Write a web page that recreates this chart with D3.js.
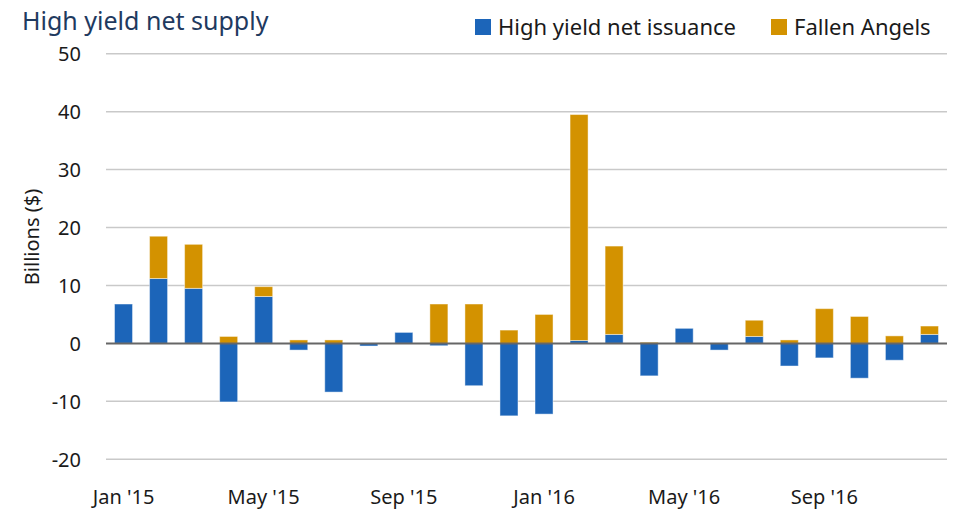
<!DOCTYPE html>
<html lang="en">
<head>
    <meta charset="utf-8">
    <script type="text/javascript" src="https://cdn.jsdelivr.net/npm/d3@7"></script>
    <style>
        body { margin: 0; background: #fff; }
        text { font-family: "Noto Sans", "Open Sans", sans-serif; }
    </style>
</head>
<body>
<script type="text/javascript">

    // Data
    let months = ["Jan '15", "Feb '15", "Mar '15", "Apr '15", "May '15", "Jun '15",
        "Jul '15", "Aug '15", "Sep '15", "Oct '15", "Nov '15", "Dec '15",
        "Jan '16", "Feb '16", "Mar '16", "Apr '16", "May '16", "Jun '16",
        "Jul '16", "Aug '16", "Sep '16", "Oct '16", "Nov '16", "Dec '16"];
    let netIssuance = [6.8, 11.2, 9.5, -10.1, 8.1, -1.15, -8.4, -0.45, 1.9, -0.4, -7.3, -12.5,
        -12.2, 0.5, 1.55, -5.6, 2.6, -1.15, 1.2, -3.9, -2.5, -6.0, -2.9, 1.55];
    let fallenAngels = [0, 7.3, 7.6, 1.2, 1.7, 0.6, 0.6, 0, 0, 6.8, 6.8, 2.3,
        5.0, 39.0, 15.25, 0.2, 0, 0, 2.8, 0.6, 6.0, 4.65, 1.3, 1.45];
    let yTicks = [-20, -10, 0, 10, 20, 30, 40, 50];
    let xTickLabels = ["Jan '15", "May '15", "Sep '15", "Jan '16", "May '16", "Sep '16"];
    let seriesNames = ["High yield net issuance", "Fallen Angels"];
    let colors = ["#1c65b9", "#d39200"];

    //Width and height
    let w = 953;
    let h = 513;
    let plotLeft = 106;
    let plotRight = 947;

    let svg = d3.select("body")
        .append("svg")
        .attr("width", w)
        .attr("height", h);

    let rows = months.map((m, i) => ({month: m, net: netIssuance[i], fa: fallenAngels[i]}));

    //Stack: negatives below zero, positives above
    let layers = d3.stack()
        .keys(["net", "fa"])
        .offset(d3.stackOffsetDiverging)(rows);

    let x = d3.scaleBand()
        .domain(months)
        .range([plotLeft, plotRight])
        .paddingInner(0.486)
        .paddingOuter(0.243);

    let y = d3.scaleLinear()
        .domain([-20, 50])
        .range([459.3, 53.7]);

    // gridlines
    svg.append("g")
        .selectAll("line")
        .data(yTicks.filter(d => d !== 0))
        .enter()
        .append("line")
        .attr("x1", plotLeft)
        .attr("x2", plotRight)
        .attr("y1", d => y(d))
        .attr("y2", d => y(d))
        .attr("stroke", "#c9c9c9")
        .attr("stroke-width", 1.5);

    // y tick labels
    svg.append("g")
        .selectAll("text")
        .data(yTicks)
        .enter()
        .append("text")
        .attr("x", 81)
        .attr("y", d => y(d))
        .attr("dy", "0.36em")
        .attr("text-anchor", "end")
        .attr("font-size", 20)
        .attr("fill", "#1a1a1a")
        .text(d => d);

    // bars
    svg.append("g")
        .selectAll("g")
        .data(layers)
        .enter()
        .append("g")
        .attr("fill", (d, i) => colors[i])
        .selectAll("rect")
        .data(d => d)
        .enter()
        .append("rect")
        .attr("x", d => x(d.data.month))
        .attr("width", x.bandwidth())
        .attr("y", d => y(Math.max(d[0], d[1])))
        .attr("height", d => Math.abs(y(d[0]) - y(d[1])))
        .attr("stroke", "rgba(255,255,255,0.45)")
        .attr("stroke-width", 1);

    // zero line
    svg.append("line")
        .attr("x1", plotLeft)
        .attr("x2", plotRight)
        .attr("y1", y(0))
        .attr("y2", y(0))
        .attr("stroke", "#666")
        .attr("stroke-width", 2);

    // x labels
    svg.append("g")
        .selectAll("text")
        .data(xTickLabels)
        .enter()
        .append("text")
        .attr("x", d => x(d) + x.bandwidth() / 2)
        .attr("y", 504)
        .attr("text-anchor", "middle")
        .attr("font-size", 20)
        .attr("fill", "#1a1a1a")
        .text(d => d);

    // y axis title
    svg.append("text")
        .attr("transform", "translate(39,237) rotate(-90)")
        .attr("text-anchor", "middle")
        .attr("font-size", 20)
        .attr("fill", "#1a1a1a")
        .text("Billions ($)");

    // chart title
    svg.append("text")
        .attr("x", 22)
        .attr("y", 30)
        .attr("font-size", 25)
        .attr("fill", "#1f3a5f")
        .text("High yield net supply");

    // legend
    let legendX = [475, 771];
    let legend = svg.append("g")
        .selectAll("g")
        .data(seriesNames)
        .enter()
        .append("g")
        .attr("transform", (d, i) => "translate(" + legendX[i] + ",0)");
    legend.append("rect")
        .attr("y", 19)
        .attr("width", 16)
        .attr("height", 16)
        .attr("fill", (d, i) => colors[i]);
    legend.append("text")
        .attr("x", 23)
        .attr("y", 35)
        .attr("font-size", 22)
        .attr("fill", "#1a1a1a")
        .text(d => d);

</script>
</body>
</html>
